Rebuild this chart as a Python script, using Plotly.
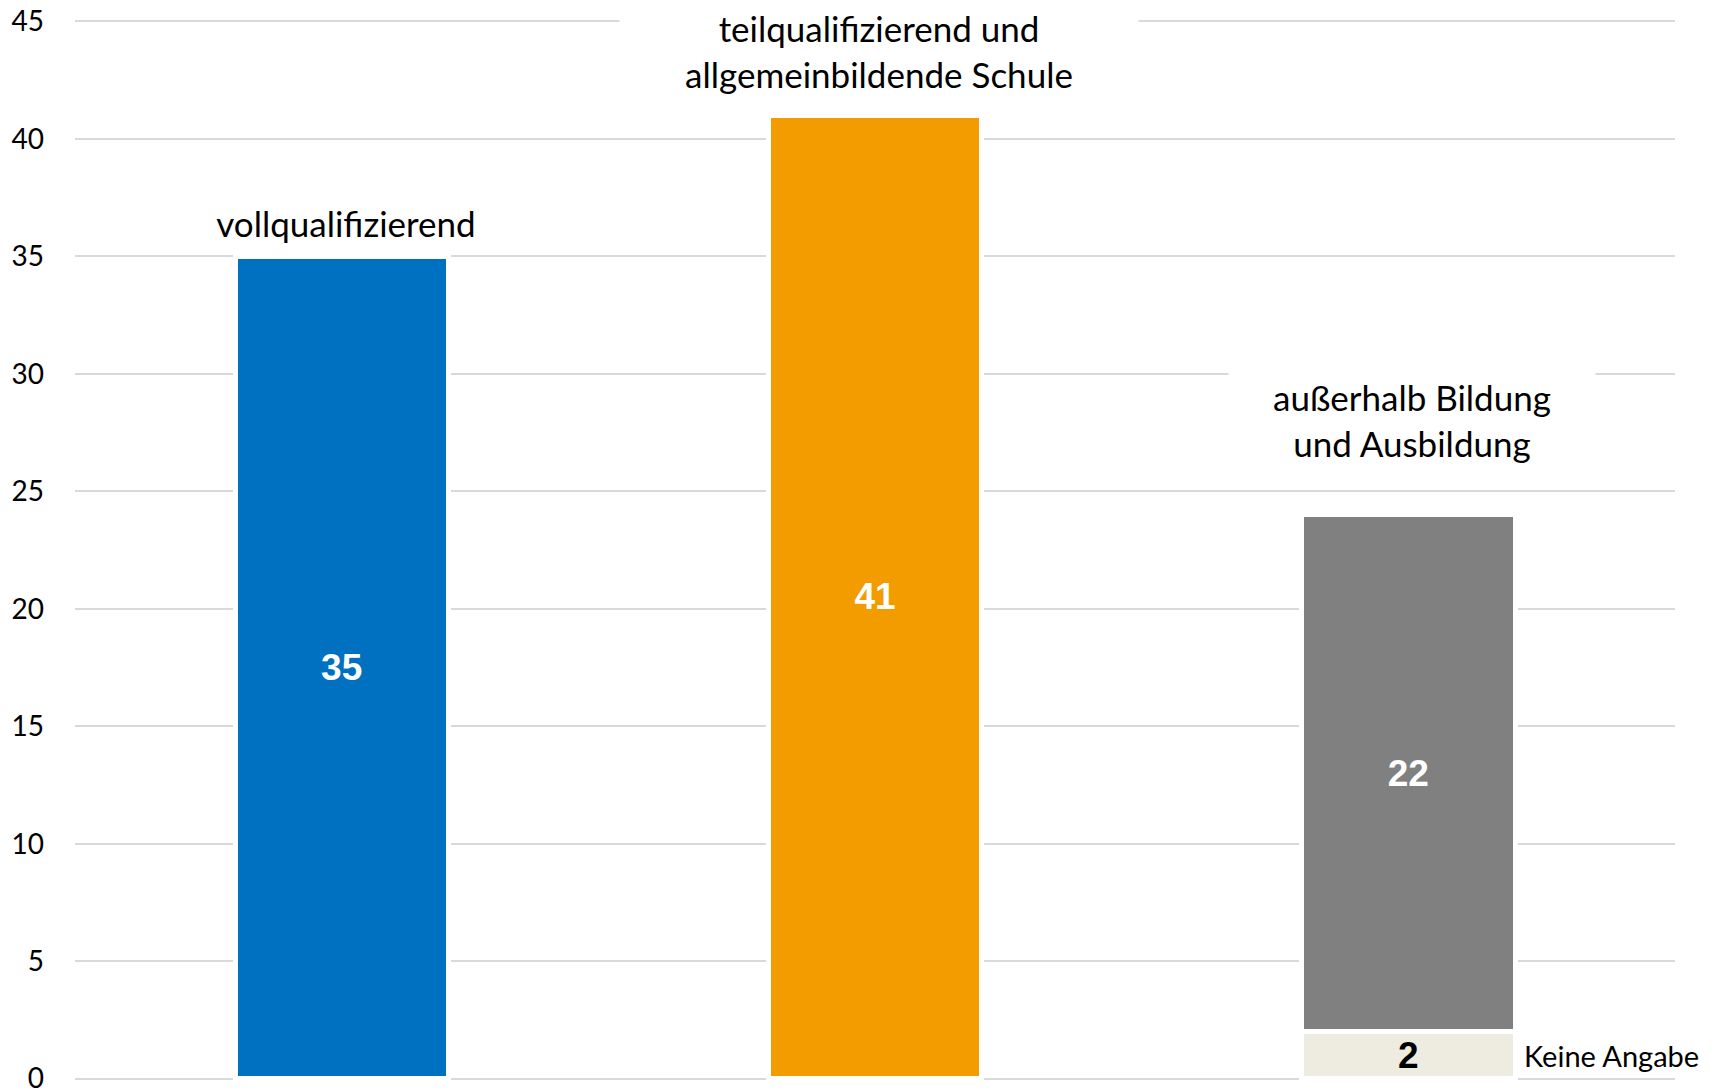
import plotly.graph_objects as go

categories = ["vollqualifizierend", "teilqualifizierend und<br>allgemeinbildende Schule", "außerhalb Bildung<br>und Ausbildung"]
main_values = [35, 41, 22]
main_colors = ["#0070C0", "#F39C00", "#808080"]
missing_values = [None, None, 2]
missing_label = "Keine Angabe"
tick_values = [0, 5, 10, 15, 20, 25, 30, 35, 40, 45]

x_idx = [0, 1, 2]
base_vals = [m if m is not None else 0 for m in missing_values]
totals = [v + b for v, b in zip(main_values, base_vals)]

fig = go.Figure()
fig.add_trace(go.Bar(
    x=x_idx, y=missing_values,
    marker=dict(color="#EEEBE0", line=dict(color="white", width=5)),
    text=[str(v) if v is not None else "" for v in missing_values],
    textposition="inside", insidetextanchor="middle", textangle=0,
    textfont=dict(family="Liberation Sans", size=37, color="black", weight="bold"),
    hoverinfo="skip", showlegend=False,
))
fig.add_trace(go.Bar(
    x=x_idx, y=main_values,
    marker=dict(color=main_colors, line=dict(color="white", width=5)),
    text=[str(v) for v in main_values],
    textposition="inside", insidetextanchor="middle", textangle=0,
    textfont=dict(family="Liberation Sans", size=37, color="white", weight="bold"),
    hoverinfo="skip", showlegend=False,
))

label_shift = [33, 64, 95]
label_box_w = [380, 518, 366]
label_box_h = [50, 112, 112]
for i, cat in enumerate(categories):
    fig.add_annotation(
        x=x_idx[i], y=totals[i], xref="x", yref="y",
        text=cat, showarrow=False, yanchor="middle", xanchor="center",
        yshift=label_shift[i], xshift=4, align="center",
        width=label_box_w[i], height=label_box_h[i], valign="middle",
        font=dict(family="Lato", size=35, color="black"),
        bgcolor="white", borderpad=0,
    )

fig.add_annotation(
    x=2, y=missing_values[2] / 2, xref="x", yref="y",
    text=missing_label, showarrow=False, xanchor="left", yanchor="middle",
    xshift=114, font=dict(family="Lato", size=29, color="black"),
)

fig.update_layout(
    width=1714, height=1091,
    barmode="stack", bargap=0.6,
    plot_bgcolor="white", paper_bgcolor="white",
    margin=dict(l=75, r=39, t=19, b=10, autoexpand=False),
    xaxis=dict(showticklabels=False, showgrid=False, zeroline=False, range=[-0.5, 2.5],
               automargin=False),
    yaxis=dict(range=[-0.1, 45.1], tickvals=tick_values, showgrid=True, gridcolor="#D9D9D9",
               gridwidth=2, zeroline=False, ticklabelstandoff=30, automargin=False,
               ticklabeloverflow="allow",
               tickfont=dict(family="Lato", size=28, color="black")),
)

fig.write_html("out.html", config={"displayModeBar": False},
               post_script="document.body.style.margin='0';")
